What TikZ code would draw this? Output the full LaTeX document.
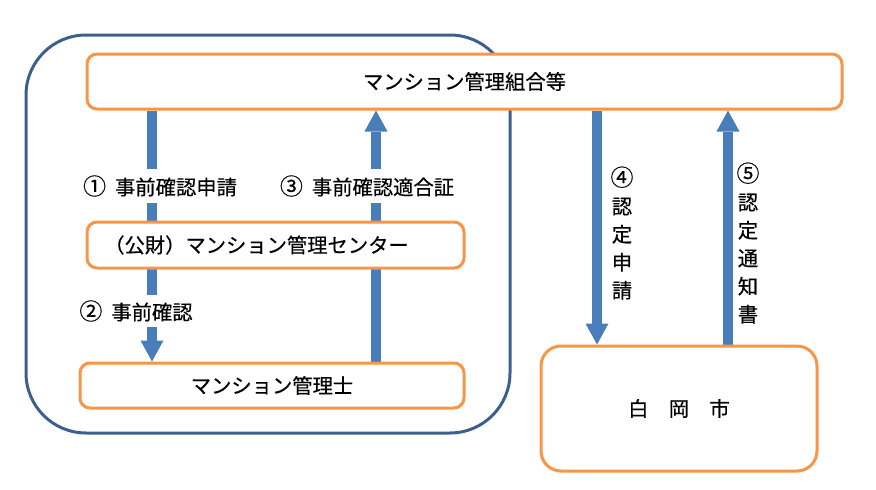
\documentclass[tikz,border=0pt]{standalone}
\usepackage{fontspec}
\setmainfont[FakeBold=0.4]{Noto Sans CJK JP}
\usetikzlibrary{arrows.meta,calc}
\definecolor{orangeline}{HTML}{F79646}
\definecolor{arrowblue}{HTML}{4A7EBB}
\definecolor{frameblue}{HTML}{3C5F8E}
\pgfdeclarelayer{bg}
\pgfsetlayers{bg,main}
\newcommand\circnum[1]{{\fontsize{23}{28}\selectfont #1}}
\begin{document}
\begin{tikzpicture}[x=1pt,y=-1pt,
  jf/.style={font=\fontsize{20.3}{28}\selectfont},
  box/.style={draw=orangeline, line width=3pt, fill=white, rounded corners=10pt, inner sep=0pt, jf},
  grp/.style={draw=frameblue, line width=3pt, rounded corners=60pt, inner sep=0pt},
  arr/.style={draw=arrowblue, line width=9.5pt, -{Triangle[width=23pt,length=21pt,line width=0pt]}},
  lab/.style={fill=white, inner sep=2pt, minimum height=34pt, jf},
  vlab/.style={inner sep=0pt, align=center, jf}]
\useasboundingbox (0,0) rectangle (876,490);
% boxes
\node[box, minimum width=755pt, minimum height=55pt] (top) at (464.5,81.5) {マンション管理組合等};
\node[box, minimum width=377pt, minimum height=46pt,
      label={[jf, xshift=-19pt]center:（公財）マンション管理センター}] (mid) at (275.5,245) {};
\node[box, minimum width=384pt, minimum height=45pt] (bot) at (272,385.5) {マンション管理士};
\node[box, rounded corners=20pt, minimum width=276pt, minimum height=125pt] (city) at (679,408.5) {白　岡　市};
% x positions of arrows
\coordinate (x1) at (152,0);
\coordinate (x3) at (376,0);
\coordinate (x4) at (597,0);
\coordinate (x5) at (728,0);
\begin{pgfonlayer}{bg}
  \node[grp, minimum width=484pt, minimum height=398pt] (group) at (268,234) {};
  \draw[arr] (top.south -| x1) -- (bot.north -| x1);
  \draw[arr] (bot.north -| x3) -- (top.south -| x3);
  \draw[arr] (top.south -| x4) -- (city.north -| x4);
  \draw[arr] (city.north -| x5) -- (top.south -| x5);
\end{pgfonlayer}
% labels
\node[lab] (l1) at (160,186) {\circnum{①}\hspace{9pt}事前確認申請};
\node[lab] (l3) at (367,186) {\circnum{③}\hspace{9pt}事前確認適合証};
\node[lab, minimum height=32pt] (l2) at (136,311) {\circnum{②}\hspace{9pt}事前確認};
\node[vlab] (l4) at (622,233) {\circnum{④}\\認\\定\\申\\請};
\node[vlab] (l5) at (748,243) {\circnum{⑤}\\認\\定\\通\\知\\書};
\end{tikzpicture}
\end{document}
